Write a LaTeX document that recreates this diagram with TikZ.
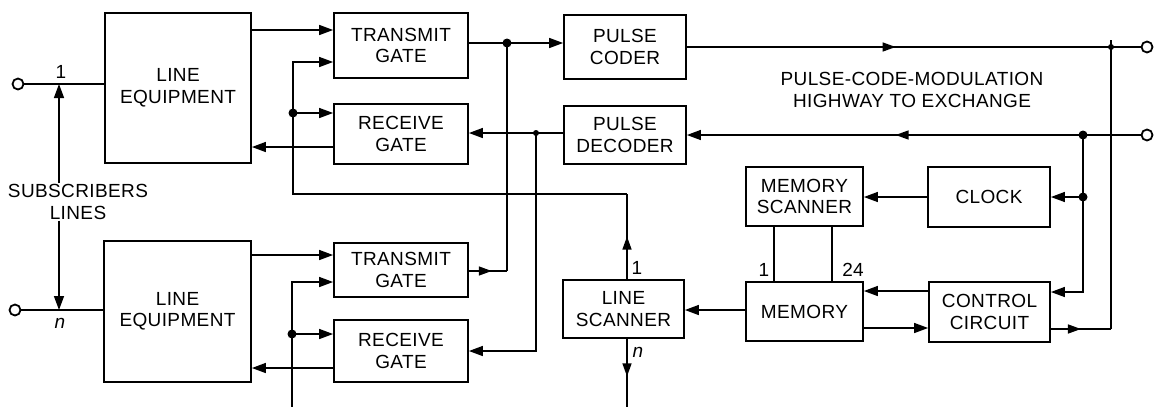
\documentclass[tikz,border=0pt]{standalone}
\usepackage{fontspec}
\setmainfont{Liberation Sans}[LetterSpace=2]
\usetikzlibrary{arrows.meta,decorations.markings}

\begin{document}
\begin{tikzpicture}[x=1pt,y=-1pt,
  block/.style={draw, line width=1.8pt, inner sep=0pt, align=center,
    font=\fontsize{19}{21.5}\selectfont},
  wire/.style={line width=1.5pt},
  arr/.style={wire, -{Triangle[length=14pt,width=10pt]}},
  midarrow/.style={postaction={decorate}, decoration={markings,
    mark=at position #1 with {\arrow{Triangle[length=13pt,width=9pt]}}}},
  term/.style={circle, draw, line width=1.8pt, inner sep=0pt, minimum size=11pt},
  lbl/.style={font=\fontsize{19}{21.5}\selectfont, inner sep=1pt}]
\useasboundingbox (0,0) rectangle (1157,407);

% Line equipment and gates
\node[block, minimum width=146pt, minimum height=150pt] (le1) at (178,88) {LINE\\EQUIPMENT};
\node[block, minimum width=147pt, minimum height=141pt] (le2) at (177.5,311.5) {LINE\\EQUIPMENT};
\node[block, minimum width=134pt, minimum height=65pt] (tg1) at (401,45.5) {TRANSMIT\\GATE};
\node[block, minimum width=134pt, minimum height=60pt] (rg1) at (401,134) {RECEIVE\\GATE};
\node[block, minimum width=134pt, minimum height=54pt] (tg2) at (401,270) {TRANSMIT\\GATE};
\node[block, minimum width=134pt, minimum height=62pt] (rg2) at (401,351) {RECEIVE\\GATE};

% Coder, decoder and scanners
\node[block, minimum width=122pt, minimum height=64pt] (coder) at (625,47) {PULSE\\CODER};
\node[block, minimum width=122pt, minimum height=58pt] (decoder) at (625,135) {PULSE\\DECODER};
\node[block, minimum width=121pt, minimum height=58pt] (lscan) at (623.5,309) {LINE\\SCANNER};
\node[block, minimum width=117pt, minimum height=59pt] (mscan) at (804.5,196.5) {MEMORY\\SCANNER};
\node[block, minimum width=117pt, minimum height=59pt] (memory) at (804.5,311.5) {MEMORY};
\node[block, minimum width=122pt, minimum height=60pt] (clock) at (989,197) {CLOCK};
\node[block, minimum width=121pt, minimum height=60pt] (ctrl) at (989.5,312) {CONTROL\\CIRCUIT};

% Labels
\node[lbl, align=center] (subs) at (78,202) {SUBSCRIBERS\\LINES};
\node[lbl, align=center] (pcm) at (912,90) {PULSE-CODE-MODULATION\\HIGHWAY TO EXCHANGE};
\node[lbl] (sone) at (61,72) {1};
\node[lbl] (senn) at (60,323) {\itshape n};
\node[lbl] (lone) at (637,268) {1};
\node[lbl] (lenn) at (638,352) {\itshape n};
\node[lbl] (mone) at (764,270) {1};
\node[lbl] (mlast) at (853,270) {24};

% Terminals
\node[term] (s1) at (18,84) {};
\node[term] (s2) at (15,310) {};
\node[term] (tout) at (1147,47) {};
\node[term] (tin) at (1147,135) {};

% Junctions and bends
\coordinate (t1) at (59,84);
\coordinate (t2) at (59,310);
\coordinate (lsA) at (627,194);
\coordinate (jA) at (293,194);
\coordinate (dA) at (293,113);
\coordinate (dB) at (507,43);
\coordinate (cB) at (507,271);
\coordinate (dC) at (536,133);
\coordinate (dD) at (292,334);
\coordinate (bD) at (292,407);
\coordinate (dE) at (1083,135);
\coordinate (dF) at (1083,197);
\coordinate (cG) at (1111,329);
\coordinate (cTop) at (1111,40);
\coordinate (dG) at (1111,47);
\coordinate (lsB) at (627,407);

% Subscriber lines
\draw[wire] (s1.east) -- (le1.west |- s1);
\draw[wire] (s2.east) -- (le2.west |- s2);
\draw[arr] (subs.north -| t1) -- (t1);
\draw[arr] (subs.south -| t2) -- (t2);

% Upper channel
\draw[arr] (le1.east |- 0,30) -- (tg1.west |- 0,30);
\draw[arr] (rg1.west |- 0,147) -- (le1.east |- 0,147);
\draw[wire] (tg1.east |- dB) -- (dB);
\draw[arr] (dB) -- (coder.west |- dB);
\draw[wire] (decoder.west |- dC) -- (dC);
\draw[arr] (dC) -- (rg1.east |- dC);
\draw[arr] (dC) |- (rg2.east |- 0,351);
\draw[wire, midarrow=0.5] (lscan.north -| lsA) -- (lsA);
\draw[wire] (lsA) -- (jA) -- (dA);
\draw[arr] (dA) |- (tg1.west |- 0,62);
\draw[arr] (dA) -- (rg1.west |- dA);

% Lower channel
\draw[arr] (le2.east |- 0,255) -- (tg2.west |- 0,255);
\draw[arr] (rg2.west |- 0,368) -- (le2.east |- 0,368);
\draw[wire, midarrow=0.6] (tg2.east |- cB) -- (cB);
\draw[wire] (cB) -- (dB);
\draw[wire] (bD) -- (dD);
\draw[arr] (dD) |- (tg2.west |- 0,282);
\draw[arr] (dD) -- (rg2.west |- dD);
\draw[wire, midarrow=0.55] (lscan.south -| lsB) -- (lsB);

% Highway
\draw[wire, midarrow=0.46] (coder.east |- tout) -- (tout.west);
\draw[arr, midarrow=0.54] (tin.west) -- (decoder.east |- tin);
\draw[wire] (dE) -- (dF);
\draw[arr] (dF) -- (clock.east |- dF);
\draw[arr] (dF) |- (ctrl.east |- 0,292);
\draw[wire, midarrow=0.5] (ctrl.east |- cG) -- (cG);
\draw[wire] (cG) -- (cTop);

% Scanner control
\draw[arr] (clock.west) -- (mscan.east |- clock.west);
\draw[wire] (mscan.south -| 774,0) -- (memory.north -| 774,0);
\draw[wire] (mscan.south -| 832,0) -- (memory.north -| 832,0);
\draw[arr] (ctrl.west |- 0,291) -- (memory.east |- 0,291);
\draw[arr] (memory.east |- 0,328) -- (ctrl.west |- 0,328);
\draw[arr] (memory.west |- 0,310) -- (lscan.east |- 0,310);

% Dots
\foreach \d in {dA,dB,dD,dE,dF} \fill (\d) circle (4.5pt);
\foreach \d in {dC,dG} \fill (\d) circle (3pt);
\end{tikzpicture}
\end{document}
